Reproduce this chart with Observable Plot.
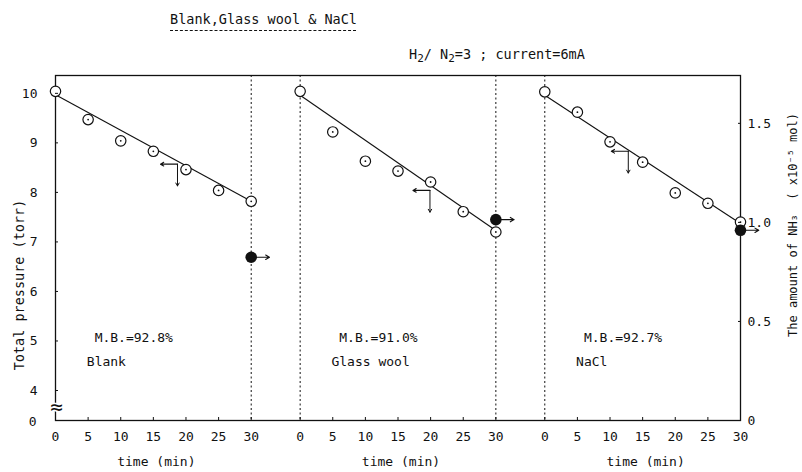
<!DOCTYPE html>
<html>
<head>
<meta charset="utf-8">
<script src="https://cdn.jsdelivr.net/npm/d3@7"></script>
<script src="https://cdn.jsdelivr.net/npm/@observablehq/plot@0.6"></script>
<style>
  body { margin: 0; background: #fff; }
  #wrap { position: relative; width: 802px; height: 472px; font-family: "DejaVu Sans Mono", monospace; color: #111; }
  #wrap svg { position: absolute; left: 0; top: 0; }
  .title { position: absolute; left: 170px; top: 11px; font-size: 13.5px; line-height: 16px; white-space: pre;
           text-decoration: underline dashed; text-underline-offset: 6px; text-decoration-thickness: 1px; }
  .cond { position: absolute; left: 409px; top: 46px; font-size: 13.5px; line-height: 16px; white-space: pre; }
  .cond sub { font-size: 11px; vertical-align: -3px; }
</style>
</head>
<body>
<div id="wrap"></div>
<script>
// ---------- data ----------
const titleText = "Blank,Glass wool & NaCl";
const panels = ["Blank", "Glass wool", "NaCl"];
const times = [0, 5, 10, 15, 20, 25, 30];
const pressureBlank = [10.0, 9.43, 9.0, 8.79, 8.42, 8.0, 7.78];
const pressureGlass = [10.0, 9.18, 8.59, 8.39, 8.17, 7.57, 7.16];
const pressureNaCl  = [9.99, 9.58, 8.98, 8.57, 7.95, 7.74, 7.36];
const fitStart = [9.93, 9.92, 9.92];
const fitEnd   = [7.78, 7.19, 7.33];
const nh3Amount = [0.824, 1.014, 0.96];          // x10^-5 mol, filled points at t = 30
const massBalance = ["M.B.=92.8%", "M.B.=91.0%", "M.B.=92.7%"];
const crossTime = [18.7, 19.9, 12.8];            // axis-indicator arrows (min)
const crossPressure = [8.53, 8.0, 8.79];         // (torr)
const xTickMinutes = [0, 5, 10, 15, 20, 25, 30];
const pressureTicks = [4, 5, 6, 7, 8, 9, 10];
const pressureTickLabels = ["4", "5", "6", "7", "8", "9", "10"];
const nh3Ticks = [0, 0.5, 1.0, 1.5];
const nh3TickLabels = ["0", "0.5", "1.0", "1.5"];
const leftLabel = "Total pressure (torr)";
const rightLabel = "The amount of NH\u2083  ( x10\u207B\u2075 mol)";
const timeLabel = "time (min)";

// ---------- layout helpers ----------
const PERIOD = 37.5;       // 30 min panel + gap
const YBOT = 3.354;        // broken axis bottom (labelled 0)
const YTOP = 10.32;
const toTorr = v => YBOT + 4 * v;   // right axis (NH3) -> left-axis units
const series = [pressureBlank, pressureGlass, pressureNaCl];
const rows = panels.flatMap((p, i) => times.map((t, j) => ({panel: p, t, x: i * PERIOD + t, y: series[i][j]})));
const dividers = panels.flatMap((p, i) => [i * PERIOD, i * PERIOD + 30]).filter(v => v > 0 && v < 2 * PERIOD + 30);
const xTicks = panels.flatMap((p, i) => xTickMinutes.map(t => i * PERIOD + t));
const minuteOf = d => Math.round(d - Math.floor(d / PERIOD + 1e-9) * PERIOD);
const ink = "#111";
const font = 13;

const chart = Plot.plot({
  width: 802, height: 472,
  marginLeft: 55, marginRight: 62, marginTop: 75, marginBottom: 52,
  style: {fontFamily: "DejaVu Sans Mono, monospace", fontSize: "13px", color: ink, background: "white"},
  x: {domain: [0, 2 * PERIOD + 30]},
  y: {domain: [YBOT, YTOP]},
  marks: [
    Plot.ruleX(dividers, {stroke: ink, strokeWidth: 1, strokeDasharray: "2,2.5"}),
    Plot.frame({stroke: ink, strokeWidth: 1.3}),
    // fitted lines
    Plot.link(panels, {x1: (d, i) => i * PERIOD, y1: (d, i) => fitStart[i],
                       x2: (d, i) => i * PERIOD + 30, y2: (d, i) => fitEnd[i], stroke: ink, strokeWidth: 1.1}),
    // open circles (pressure)
    Plot.dot(rows, {x: "x", y: "y", r: 5.2, fill: "white", stroke: ink, strokeWidth: 1.2}),
    Plot.dot(rows.filter(d => d.t > 0), {x: "x", y: "y", r: 0.9, fill: ink}),
    // filled circles (NH3) with right-pointing arrows
    Plot.arrow(panels, {x1: (d, i) => i * PERIOD + 30, x2: (d, i) => i * PERIOD + 32.8,
                        y1: (d, i) => toTorr(nh3Amount[i]), y2: (d, i) => toTorr(nh3Amount[i]),
                        stroke: ink, strokeWidth: 1.1, headLength: 6}),
    Plot.dot(panels, {x: (d, i) => i * PERIOD + 30, y: (d, i) => toTorr(nh3Amount[i]), r: 5.8, fill: ink}),
    // axis indicator crosses (left and down)
    Plot.arrow(panels, {x1: (d, i) => i * PERIOD + crossTime[i], x2: (d, i) => i * PERIOD + crossTime[i] - 2.6,
                        y1: (d, i) => crossPressure[i], y2: (d, i) => crossPressure[i],
                        stroke: ink, strokeWidth: 1.1, headLength: 5}),
    Plot.arrow(panels, {x1: (d, i) => i * PERIOD + crossTime[i], x2: (d, i) => i * PERIOD + crossTime[i],
                        y1: (d, i) => crossPressure[i], y2: (d, i) => crossPressure[i] - 0.44,
                        stroke: ink, strokeWidth: 1, headLength: 5}),
    // annotations
    Plot.text(panels, {x: (d, i) => i * PERIOD + 6, y: 5.03, text: (d, i) => massBalance[i],
                       textAnchor: "start", fontSize: font, fill: ink}),
    Plot.text(panels, {x: (d, i) => i * PERIOD + 4.8, y: 4.53, text: d => d,
                       textAnchor: "start", fontSize: font, fill: ink}),
    // axes
    Plot.axisY(pressureTicks, {anchor: "left", tickSize: -3, tickPadding: 21, dy: 2, label: null, fontSize: font,
      tickFormat: d => pressureTickLabels[pressureTicks.indexOf(d)]}),
    Plot.axisY([YBOT], {anchor: "left", tickSize: 0, tickPadding: 19, dy: 1, tickFormat: () => "0", label: null, fontSize: font}),
    Plot.text(["\u2248"], {frameAnchor: "left", y: 3.62, textAnchor: "middle", dx: 1,
                           fontSize: 21, fill: ink, stroke: "white", strokeWidth: 3}),
    Plot.axisY(nh3Ticks.map(toTorr), {anchor: "right", tickSize: -3, tickPadding: 10, label: null, fontSize: font,
      tickFormat: d => nh3TickLabels[nh3Ticks.findIndex(v => Math.abs(toTorr(v) - d) < 1e-6)]}),
    Plot.axisX(xTicks, {anchor: "bottom", tickSize: -3, tickPadding: 14, label: null, fontSize: font,
      tickFormat: d => String(minuteOf(d))}),
    Plot.text(panels, {x: (d, i) => i * PERIOD + 15, frameAnchor: "bottom", dy: 45, dx: 3,
                       text: () => timeLabel, fontSize: font, fill: ink}),
    Plot.text([leftLabel], {frameAnchor: "left", dx: -36, dy: 37, rotate: -90, textAnchor: "middle",
                            fontSize: 13.5, fill: ink}),
    Plot.text([rightLabel], {frameAnchor: "right", dx: 53, dy: -23, rotate: -90, textAnchor: "middle",
                             fontSize: 12, fill: ink})
  ]
});

const wrap = document.getElementById("wrap");
wrap.appendChild(chart);
const t = document.createElement("div");
t.className = "title";
t.textContent = titleText;
wrap.appendChild(t);
const c = document.createElement("div");
c.className = "cond";
c.innerHTML = "H<sub>2</sub>/ N<sub>2</sub>=3 ; current=6mA";
wrap.appendChild(c);
</script>
</body>
</html>
